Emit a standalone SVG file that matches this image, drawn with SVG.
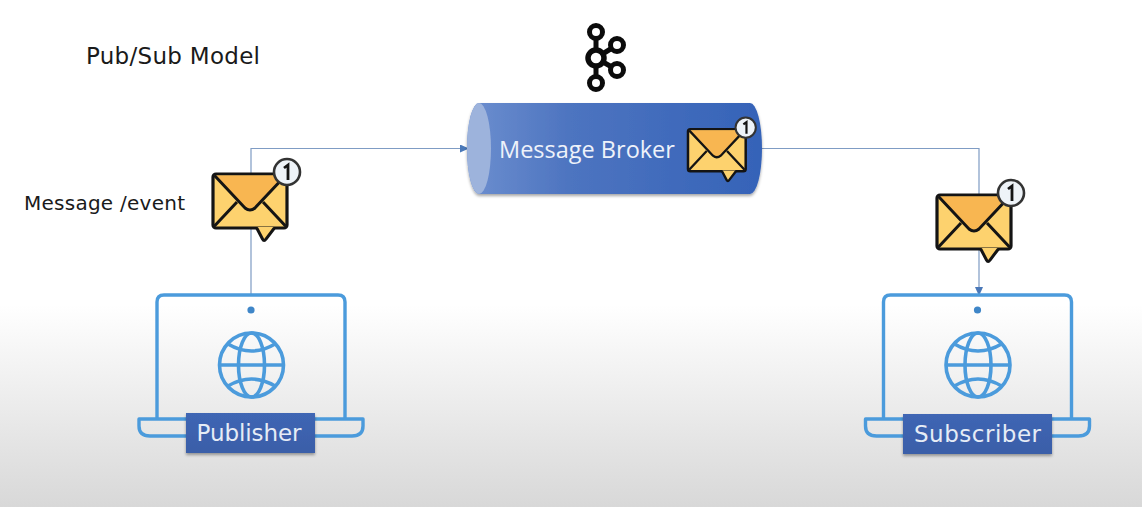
<svg xmlns="http://www.w3.org/2000/svg" width="1142" height="507" viewBox="0 0 1142 507">
<style>
.hand{font-family:"DejaVu Sans","Noto Sans",sans-serif;fill:#1a1a1a}
.lbl{font-family:"DejaVu Sans","Noto Sans",sans-serif;fill:#e6ecf6;text-anchor:middle}
.wire{fill:none;stroke:#7f9cc4;stroke-width:1.2}
.lap{fill:none;stroke:#4b9bdc;stroke-width:3.4;stroke-linejoin:round}
.glb{fill:none;stroke:#4b9bdc;stroke-width:3.6}
.k{fill:none;stroke:#0b0b0b;stroke-width:5}
</style>
<defs>
<linearGradient id="bg" x1="0" y1="0" x2="0" y2="1"><stop offset="0.6" stop-color="#ffffff"/><stop offset="1" stop-color="#d8d8d8"/></linearGradient>
<linearGradient id="cyl" x1="0" y1="0" x2="1" y2="0"><stop offset="0" stop-color="#6d8fcf"/><stop offset="0.35" stop-color="#4d74c0"/><stop offset="1" stop-color="#3563b8"/></linearGradient>
<linearGradient id="btn" x1="0" y1="0" x2="0" y2="1"><stop offset="0" stop-color="#3f66b4"/><stop offset="1" stop-color="#3a5ea8"/></linearGradient>
<filter id="sh" x="-5%" y="-10%" width="110%" height="125%"><feDropShadow dx="0" dy="2" stdDeviation="1.6" flood-color="#000" flood-opacity="0.35"/></filter>
<marker id="ah" markerWidth="9" markerHeight="8" refX="8" refY="4" orient="auto" markerUnits="userSpaceOnUse"><path d="M0 0L9 4L0 8Z" fill="#4a78b8"/></marker>
<symbol id="env" viewBox="-2 -16 92 74" overflow="visible">
<rect x="0" y="0" width="74" height="54" rx="3" fill="#fdd26e" stroke="#141414" stroke-width="3.2"/>
<path d="M1.500 1.500H72.500L42 34Q37 38 32 34Z" fill="#f8b651"/>
<path d="M1.500 1.500L32 34Q37 38 42 34L72.500 1.500" fill="none" stroke="#141414" stroke-width="3"/>
<path d="M1.500 52L24 28M50 28L72.500 52" fill="none" stroke="#141414" stroke-width="3"/>
<path d="M44 53L49.500 65Q51 68 53 65L61 53Z" fill="#fdd26e"/>
<path d="M44 54.500L49.500 65Q51 68 53 65L61 54.500" fill="none" stroke="#141414" stroke-width="3" stroke-linecap="round"/>
<circle cx="74" cy="-2" r="13" fill="#eef3f8" stroke="#333" stroke-width="2.600"/>
<path d="M71 -6L75 -9V6" fill="none" stroke="#141414" stroke-width="2.800"/>
</symbol>
<g id="laptop-shape">
<path class="lap" d="M157 418V302Q157 295 164 295H338Q345 295 345 302V418"/>
<path class="lap" d="M139 419H363V426Q363 436 352 436H150Q139 436 139 426Z"/>
<circle cx="251" cy="310" r="3.6" fill="#3f86c8"/>
<g class="glb"><circle cx="251.500" cy="365" r="32"/><ellipse cx="251.500" cy="365" rx="13" ry="32"/><path d="M219.500 365H283.500M228 344Q251.500 358 275 344M228 386Q251.500 372 275 386"/></g>
</g>
</defs>
<rect id="background" width="1142" height="507" fill="url(#bg)"/>
<g id="connectors">
<path class="wire" marker-end="url(#ah)" d="M251 295V148.500H468"/>
<path class="wire" marker-end="url(#ah)" d="M762 148.500H979V295"/>
</g>
<text id="title" class="hand" x="86" y="64" font-size="23" textLength="174">Pub/Sub Model</text>
<text id="message-label" class="hand" x="24" y="210" font-size="20" textLength="161">Message /event</text>
<g id="kafka-logo" class="k">
<path d="M596 32V83M596 58L617 45M596 58L617 70"/>
<circle cx="596" cy="32" r="6.500" fill="#fff"/><circle cx="617" cy="45" r="6.500" fill="#fff"/><circle cx="596" cy="58" r="8" fill="#fff" stroke-width="5.500"/><circle cx="617" cy="70" r="6.500" fill="#fff"/><circle cx="596" cy="83" r="6.500" fill="#fff"/>
</g>
<g id="message-broker">
<path d="M479 103H750A12 45.500 0 0 1 750 194H479A12 45.500 0 0 1 479 103Z" fill="url(#cyl)" filter="url(#sh)"/>
<ellipse cx="479" cy="148.500" rx="12" ry="45.500" fill="#9db3dc"/>
<text x="499" y="158" font-family="'Open Sans','Noto Sans',sans-serif" font-size="23.500" fill="#eef2fa">Message Broker</text>
<use href="#env" x="686.400" y="116.700" width="71.800" height="57.700"/>
</g>
<g id="envelope-publisher"><use href="#env" x="211" y="158" width="92" height="74"/></g>
<g id="envelope-subscriber"><use href="#env" x="935" y="179" width="92" height="74"/></g>
<g id="publisher">
<use href="#laptop-shape"/>
<rect x="186" y="413" width="129" height="40" fill="url(#btn)" filter="url(#sh)"/>
<text class="lbl" x="249" y="441" font-size="23" textLength="105">Publisher</text>
</g>
<g id="subscriber">
<use href="#laptop-shape" x="726.500"/>
<rect x="903" y="414" width="149" height="40" fill="url(#btn)" filter="url(#sh)"/>
<text class="lbl" x="977.500" y="442" font-size="23" textLength="127">Subscriber</text>
</g>
</svg>
